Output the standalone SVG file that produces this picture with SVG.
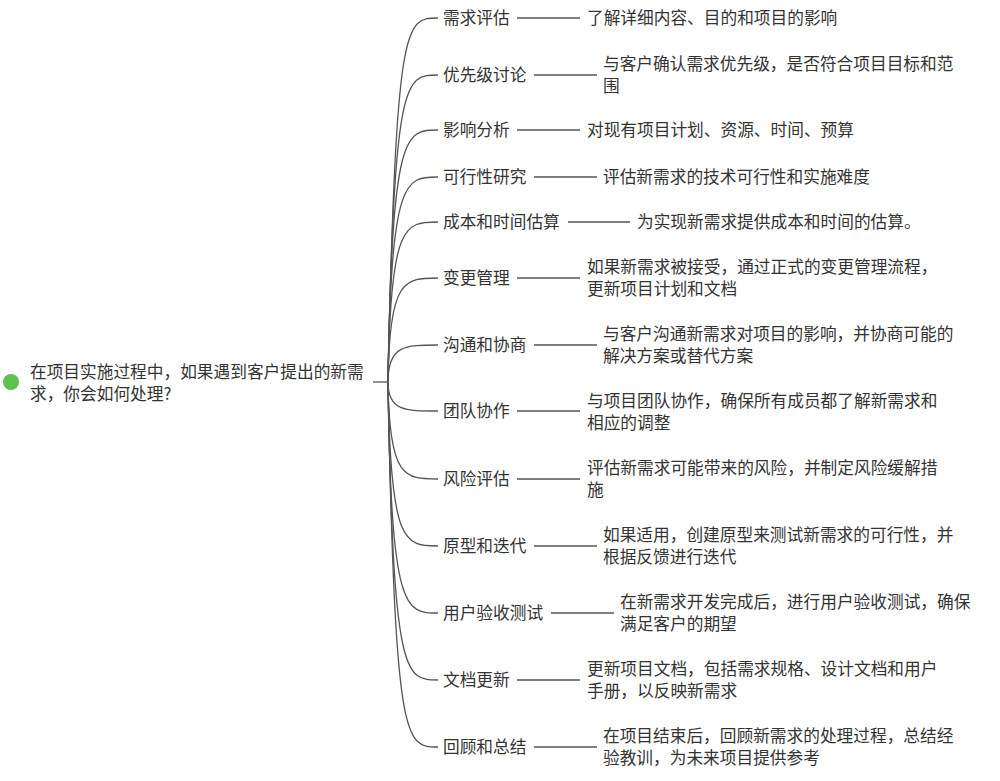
<svg xmlns="http://www.w3.org/2000/svg" width="1000" height="781" viewBox="0 0 1000 781">
<style>
text{font-family:"Noto Sans CJK SC","Liberation Sans",sans-serif;font-size:16.7px;fill:#333}
.c{fill:none;stroke:#555;stroke-width:1.3}
</style>
<rect width="1000" height="781" fill="#fff"/>
<g id="connectors">
<path class="c" d="M373,382H388"/>
<path class="c" d="M388,382C396,18 405,18 438,18"/>
<path class="c" d="M388,382C394,75 405,75 438,75"/>
<path class="c" d="M388,382C392,130 405,130 438,130"/>
<path class="c" d="M388,382C391,177 405,177 438,177"/>
<path class="c" d="M388,382C390,222 405,222 438,222"/>
<path class="c" d="M388,382C389,278 405,278 438,278"/>
<path class="c" d="M388,382C388,345 405,345 438,345"/>
<path class="c" d="M388,382C388,411 405,411 438,411"/>
<path class="c" d="M388,382C389,479 405,479 438,479"/>
<path class="c" d="M388,382C390,546 405,546 438,546"/>
<path class="c" d="M388,382C391,613 405,613 438,613"/>
<path class="c" d="M388,382C393,680 405,680 438,680"/>
<path class="c" d="M388,382C395,747 405,747 438,747"/>
<path class="c" d="M517,18H580M534,75H597M517,130H580M534,177H597M568,222H630M517,278H580M534,345H597M517,411H580M517,479H580M534,546H597M551,613H614M517,680H580M534,747H597"/>
</g>
<g id="root"><circle cx="11" cy="382" r="8" fill="#5ec24f"/><text x="30" y="378">在项目实施过程中，如果遇到客户提出的新需</text><text x="30" y="400">求，你会如何处理?</text></g>
<g id="n1"><text x="443" y="24">需求评估</text><text x="587" y="24">了解详细内容、目的和项目的影响</text></g>
<g id="n2"><text x="443" y="81">优先级讨论</text><text x="603" y="70">与客户确认需求优先级，是否符合项目目标和范</text><text x="603" y="92">围</text></g>
<g id="n3"><text x="443" y="136">影响分析</text><text x="587" y="136">对现有项目计划、资源、时间、预算</text></g>
<g id="n4"><text x="443" y="183">可行性研究</text><text x="603" y="183">评估新需求的技术可行性和实施难度</text></g>
<g id="n5"><text x="443" y="228">成本和时间估算</text><text x="637" y="228">为实现新需求提供成本和时间的估算。</text></g>
<g id="n6"><text x="443" y="284">变更管理</text><text x="587" y="273">如果新需求被接受，通过正式的变更管理流程，</text><text x="587" y="295">更新项目计划和文档</text></g>
<g id="n7"><text x="443" y="351">沟通和协商</text><text x="603" y="340">与客户沟通新需求对项目的影响，并协商可能的</text><text x="603" y="362">解决方案或替代方案</text></g>
<g id="n8"><text x="443" y="417">团队协作</text><text x="587" y="407">与项目团队协作，确保所有成员都了解新需求和</text><text x="587" y="429">相应的调整</text></g>
<g id="n9"><text x="443" y="485">风险评估</text><text x="587" y="474">评估新需求可能带来的风险，并制定风险缓解措</text><text x="587" y="496">施</text></g>
<g id="n10"><text x="443" y="552">原型和迭代</text><text x="603" y="541">如果适用，创建原型来测试新需求的可行性，并</text><text x="603" y="563">根据反馈进行迭代</text></g>
<g id="n11"><text x="443" y="619">用户验收测试</text><text x="620" y="608">在新需求开发完成后，进行用户验收测试，确保</text><text x="620" y="630">满足客户的期望</text></g>
<g id="n12"><text x="443" y="686">文档更新</text><text x="587" y="675">更新项目文档，包括需求规格、设计文档和用户</text><text x="587" y="697">手册，以反映新需求</text></g>
<g id="n13"><text x="443" y="753">回顾和总结</text><text x="603" y="742">在项目结束后，回顾新需求的处理过程，总结经</text><text x="603" y="764">验教训，为未来项目提供参考</text></g>
</svg>
